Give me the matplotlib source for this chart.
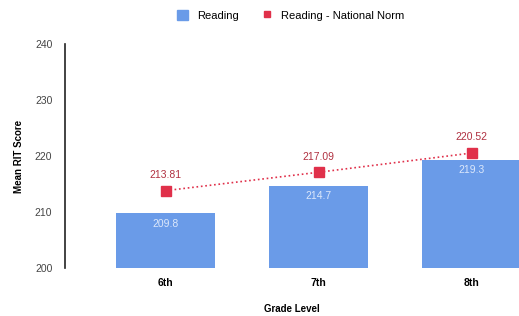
import matplotlib.pyplot as plt
from matplotlib.lines import Line2D
from matplotlib.patches import Patch

plt.rcParams['font.family'] = ['Liberation Sans', 'DejaVu Sans']

grades = ['6th', '7th', '8th']
reading = [209.8, 214.7, 219.3]
norm = [213.81, 217.09, 220.52]

bar_color = '#6a9be8'
norm_color = '#e0304a'

fig = plt.figure(figsize=(5.19, 3.16), dpi=100)
ax = fig.add_axes([0.125, 0.152, 0.875, 0.709])

x = list(range(len(grades)))
ax.bar(x, [r - 200 for r in reading], bottom=200, width=0.65, color=bar_color, zorder=2)
for xi, r in zip(x, reading):
    ax.text(xi, r - 1.0, f'{r:g}', ha='center', va='top', color='#dce8fb', fontsize=7.5, zorder=3)

ax.plot(x, norm, linestyle=':', color=norm_color, linewidth=1.2, zorder=3)
ax.plot(x, norm, linestyle='none', marker='s', markersize=7, color=norm_color, zorder=4)
for xi, n in zip(x, norm):
    ax.text(xi, n + 1.9, f'{n:g}', ha='center', va='bottom', color='#b03040', fontsize=7.5)

ax.set_xlim(-0.66, 2.31)
ax.set_ylim(200, 240)
ax.set_yticks([200, 210, 220, 230, 240])
ax.set_xticks(x)
ax.set_xticklabels(grades, fontweight='bold', fontsize=7.5)
ax.tick_params(axis='y', labelsize=7.5, labelcolor='#444444', length=0, pad=9)
ax.tick_params(axis='x', length=0, pad=7)
for s in ['top', 'right', 'bottom']:
    ax.spines[s].set_visible(False)
ax.spines['left'].set_color('#222222')
ax.spines['left'].set_linewidth(1.2)

ax.set_ylabel('Mean RIT Score', fontweight='bold', fontsize=7, labelpad=8)
ax.set_xlabel('Grade Level', fontweight='bold', fontsize=7, labelpad=12)

handles = [Patch(color=bar_color, label='Reading'),
           Line2D([], [], marker='s', linestyle='none', color=norm_color, markersize=5,
                  label='Reading - National Norm')]
fig.legend(handles=handles, loc='upper center', bbox_to_anchor=(0.56, 1.0), ncol=2,
           frameon=False, fontsize=8, handlelength=1.0, handleheight=1.0, columnspacing=2.0)

fig.savefig('out.png', dpi=100)
plt.close()
